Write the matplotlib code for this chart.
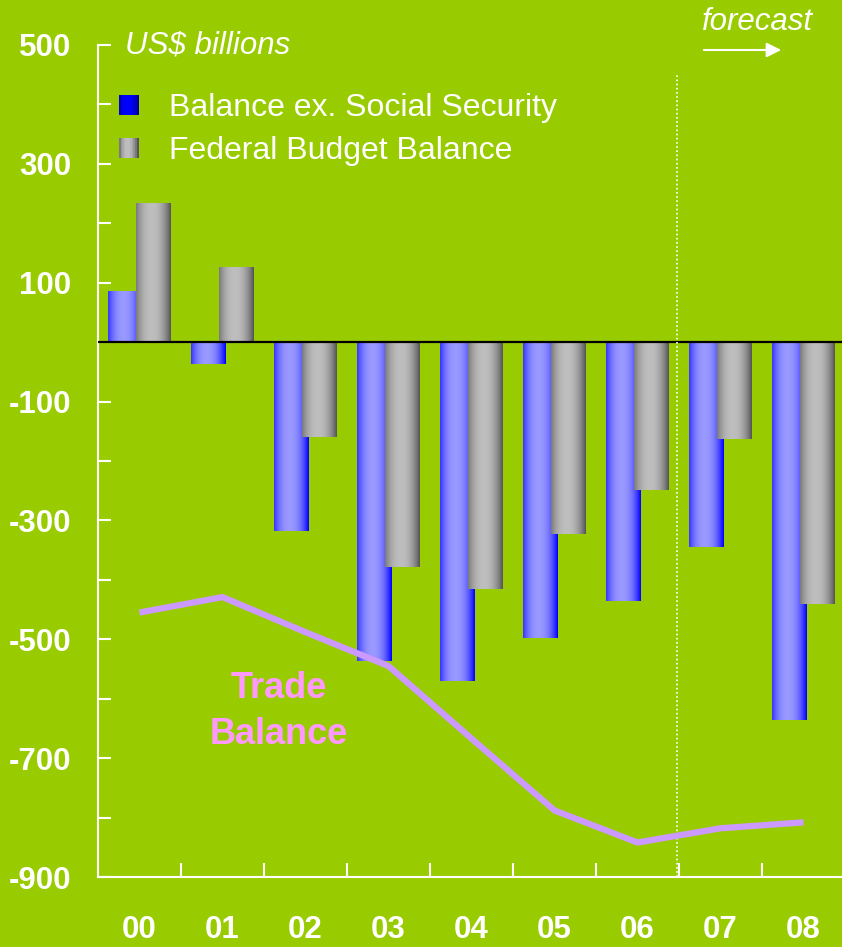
#!/usr/bin/env python3
import numpy as np
import matplotlib
matplotlib.use("Agg")
import matplotlib.pyplot as plt
from matplotlib.patches import Rectangle
from matplotlib.legend_handler import HandlerBase
from matplotlib.colors import to_rgb

# data (US$ billions)
years = ["00", "01", "02", "03", "04", "05", "06", "07", "08"]
bal_ex_ss = [86, -37, -318, -537, -571, -497, -436, -345, -635]
fed_budget = [234, 126, -160, -379, -416, -322, -249, -163, -441]
trade_bal = [-455, -429, -488, -545, -667, -788, -842, -818, -808]
ytick_vals = list(range(-900, 501, 100))

BG = "#99CC00"
BLUE_DARK, BLUE_LIGHT = "#0000FF", "#9999FF"
GRAY_DARK, GRAY_LIGHT = "#555555", "#BEBEBE"

plt.rcParams["font.family"] = ["Liberation Sans", "DejaVu Sans"]


def gradient_row(dark, light, n=64):
    # dark at both edges, light a bit left of centre
    t = np.linspace(0, 1, n)
    w = np.clip(1 - np.abs((t - 0.45) / 0.55) ** 2.2, 0, 1)
    d, l = np.array(to_rgb(dark)), np.array(to_rgb(light))
    return (d[None, :] * (1 - w[:, None]) + l[None, :] * w[:, None])[None, :, :]


def shade_bars(ax, bars, dark, light, z):
    img = gradient_row(dark, light)
    for b in bars:
        x0, w, h = b.get_x(), b.get_width(), b.get_height()
        im = ax.imshow(img, extent=[x0, x0 + w, 0, h], aspect="auto",
                       interpolation="bilinear", zorder=z)
        im.set_clip_path(b)


class GradientHandler(HandlerBase):
    def __init__(self, dark, light):
        super().__init__()
        self.dark, self.light = dark, light

    def create_artists(self, legend, orig_handle, xdescent, ydescent,
                       width, height, fontsize, trans):
        cols = gradient_row(self.dark, self.light, 12)[0]
        n = len(cols)
        out = []
        for i, c in enumerate(cols):
            r = Rectangle((-xdescent + i * width / n, -ydescent), width / n + 0.3,
                          height, facecolor=c, edgecolor="none", transform=trans)
            out.append(r)
        return out


fig = plt.figure(figsize=(8.42, 9.47), dpi=100, facecolor=BG)
ax = fig.add_axes([98 / 842, 70 / 947, 747 / 842, 832 / 947])
ax.set_facecolor(BG)

x = np.arange(len(years))
bw = 0.42
b1 = ax.bar(x - 0.175, bal_ex_ss, bw, color="none", zorder=2)
b2 = ax.bar(x + 0.165, fed_budget, bw, color="none", zorder=3)
shade_bars(ax, b1, BLUE_DARK, BLUE_LIGHT, 2)
shade_bars(ax, b2, GRAY_DARK, GRAY_LIGHT, 3)

ax.plot(x, trade_bal, color="#CC99FF", lw=4.5, zorder=5, solid_capstyle="butt")
ax.axhline(0, color="black", lw=1.6, zorder=4)
ax.vlines(6.47, -900, 453, colors="white", linestyles=(0, (1, 1.5)), lw=1.2, zorder=4)

ax.text(1.68, -621, "Trade\nBalance", color="#FF99FF", fontsize=26,
        fontweight="bold", ha="center", va="center", linespacing=1.4, zorder=6)

ax.set_xlim(-0.5, 8.5)
ax.set_ylim(-900, 500)

for s in ["top", "right"]:
    ax.spines[s].set_visible(False)
for s in ["left", "bottom"]:
    ax.spines[s].set_color("white")
    ax.spines[s].set_linewidth(1.5)

ax.set_yticks(ytick_vals)
ax.set_yticklabels([str(v) if (v // 100) % 2 != 0 else "" for v in ytick_vals])
ax.set_xticks(x)
ax.set_xticklabels(years)
ax.set_xticks(np.arange(0.5, 8.5, 1), minor=True)
ax.tick_params(axis="y", direction="in", length=9, width=1.5, color="white",
               labelcolor="white", labelsize=22.5, pad=19)
ax.tick_params(axis="x", which="major", length=0, labelcolor="white",
               labelsize=22.5, pad=27)
ax.tick_params(axis="x", which="minor", direction="in", length=10, width=1.5,
               color="white")
for lab in ax.get_xticklabels() + ax.get_yticklabels():
    lab.set_fontweight("bold")

h1 = Rectangle((0, 0), 1, 1)
h2 = Rectangle((0, 0), 1, 1)
leg = ax.legend([h1, h2], ["Balance ex. Social Security", "Federal Budget Balance"],
                handler_map={h1: GradientHandler("#0000A0", "#0000FF"),
                             h2: GradientHandler(GRAY_DARK, GRAY_LIGHT)},
                loc="upper left", frameon=False, fontsize=23,
                handlelength=0.6, handleheight=0.6, handletextpad=0.95,
                labelspacing=0.42, borderpad=0, borderaxespad=0)
leg.set_bbox_to_anchor((119 / 842, (947 - 93) / 947), transform=fig.transFigure)
for t in leg.get_texts():
    t.set_color("white")

fig.text(125 / 842, (947 - 46) / 947, "US$ billions", color="white",
         fontsize=22.5, style="italic", ha="left", va="center")
fig.text(702 / 842, (947 - 22) / 947, "forecast", color="white",
         fontsize=22.5, style="italic", ha="left", va="center")
ax.annotate("", xy=(784, 947 - 50), xytext=(701, 947 - 50),
            xycoords="figure pixels", textcoords="figure pixels",
            arrowprops=dict(arrowstyle="-|>", color="white", lw=1.5,
                            mutation_scale=22))

fig.savefig("out.png", dpi=100, facecolor=BG)
